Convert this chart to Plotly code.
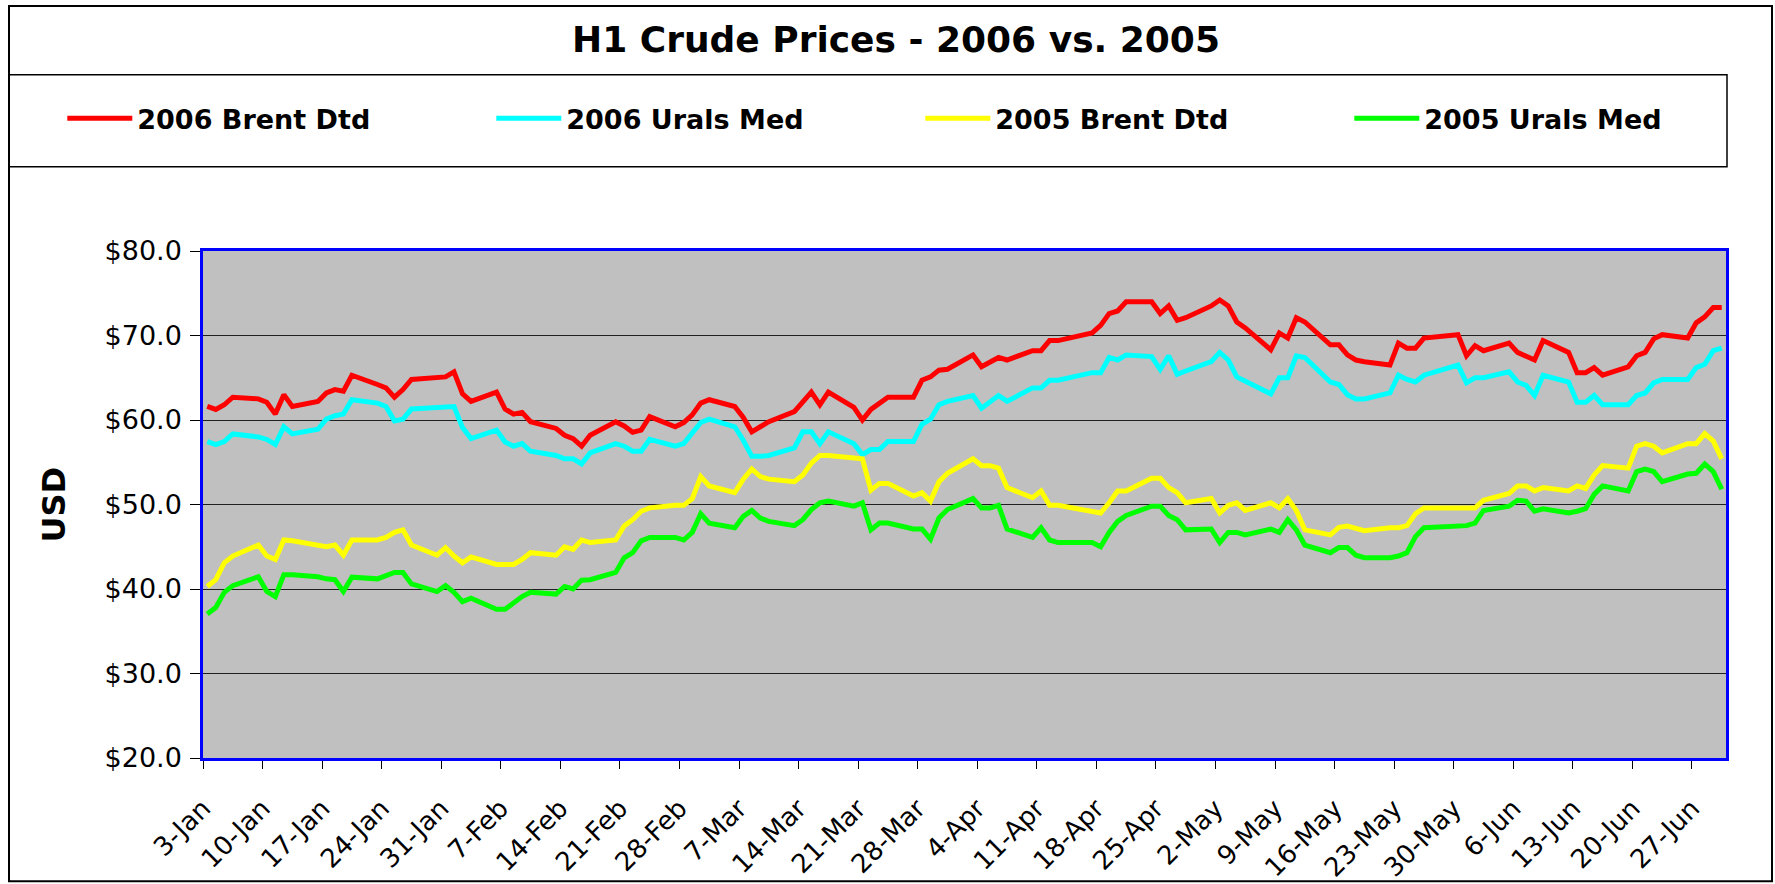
import pandas as pd
import plotly.graph_objects as go

W, H = 1775, 884

# ---- categories: trading days (weekdays, Good Friday & Spring BH missing) ----
holidays = ["2006-04-14", "2006-05-29"]
dates = [d for d in pd.bdate_range("2006-01-03", "2006-06-30")
         if d.strftime("%Y-%m-%d") not in holidays]

series_names = ["2006 Brent Dtd", "2006 Urals Med", "2005 Brent Dtd", "2005 Urals Med"]
series_colors = ["#FF0000", "#00FFFF", "#FFFF00", "#00FF00"]

brent_2006 = [
    61.6, 61.25, 61.8, 62.7, 62.5, 62.1, 60.7, 63.0, 61.6, 62.2, 63.2, 63.6, 63.4, 65.3, 64.2, 63.8, 62.7, 63.6, 64.8, 65.1, 65.1,
    65.7, 63.1, 62.2, 63.3, 61.3, 60.7, 60.9, 59.8, 59.0, 58.2, 57.8, 56.9, 58.2, 59.8, 59.3, 58.55, 58.8, 60.4, 59.2, 59.7,
    60.6, 62.0, 62.4, 61.6, 60.3, 58.6, 59.2, 59.8, 61.0, 62.2, 63.3, 61.8, 63.3, 61.5, 60.0, 61.25, 62.0, 62.7, 62.7, 64.7, 65.1, 65.9, 66.0,
    67.7, 66.3, 66.9, 67.4, 67.1, 68.2, 68.2, 69.4, 69.4, 70.3, 71.2, 72.6, 72.9, 74.0, 74.0, 72.6, 73.5, 71.8, 72.1,
    73.5, 74.2, 73.5, 71.6, 70.9, 68.3, 70.3, 69.7, 72.1, 71.6, 68.9, 68.9, 67.7, 67.1, 66.9, 66.5, 69.1, 68.5, 68.5, 69.7, 70.1, 67.6,
    68.8, 68.2, 69.1, 68.0, 67.6, 67.1, 69.4, 68.0, 65.6, 65.6, 66.2, 65.3, 66.3, 67.6, 68.0, 69.6, 70.1, 69.7, 71.5, 72.2, 73.3, 73.3,
]
urals_2006 = [
    57.45, 57.1, 57.45, 58.35, 58.0, 57.7, 57.1, 59.2, 58.35, 58.9, 60.1, 60.5, 60.7, 62.4, 62.0, 61.6, 59.9, 60.1, 61.3, 61.5, 61.6,
    61.6, 59.1, 57.8, 58.8, 57.4, 56.9, 57.2, 56.3, 55.8, 55.4, 55.4, 54.8, 56.1, 57.2, 56.9, 56.3, 56.3, 57.7, 56.9, 57.2,
    58.4, 59.7, 60.1, 59.2, 57.6, 55.7, 55.7, 55.8, 56.7, 58.6, 58.6, 57.2, 58.6, 57.2, 55.9, 56.5, 56.5, 57.45, 57.45, 59.5, 60.1, 61.8, 62.2,
    62.9, 61.4, 62.2, 62.9, 62.2, 63.8, 63.8, 64.7, 64.7, 65.6, 65.6, 67.4, 67.1, 67.7, 67.5, 66.0, 67.6, 65.4, 65.8,
    66.9, 68.0, 67.1, 65.1, 64.6, 63.1, 65.0, 65.0, 67.6, 67.4, 64.5, 64.2, 63.0, 62.5, 62.5, 63.2, 65.3, 64.8, 64.5, 65.3, 66.5, 64.4,
    65.0, 65.0, 65.7, 64.5, 64.1, 62.9, 65.3, 64.5, 62.1, 62.1, 62.9, 61.8, 61.8, 62.9, 63.2, 64.4, 64.8, 64.8, 66.2, 66.6, 68.2, 68.5,
]
brent_2005 = [
    40.3, 41.1, 43.1, 43.9, 45.2, 43.9, 43.5, 45.8, 45.7, 45.2, 45.0, 45.2, 44.0, 45.8, 45.8, 46.1, 46.7, 47.0, 45.2, 44.0, 44.9,
    43.9, 43.1, 43.8, 42.9, 42.9, 42.9, 43.5, 44.3, 44.0, 45.0, 44.7, 45.8, 45.5, 45.8, 47.45, 48.2, 49.2, 49.6, 49.9, 49.9,
    50.7, 53.3, 52.2, 51.4, 53.0, 54.2, 53.3, 53.0, 52.7, 53.5, 54.9, 55.8, 55.8, 55.4, 55.4, 51.7, 52.5, 52.5, 51.0, 51.4, 50.4, 52.7, 53.7,
    55.4, 54.6, 54.6, 54.3, 52.0, 50.8, 51.6, 49.9, 49.9, 49.2, 49.0, 50.2, 51.6, 51.6, 53.1, 53.1, 52.0, 51.4, 50.2,
    50.7, 49.0, 49.9, 50.2, 49.3, 50.2, 49.6, 50.7, 49.3, 47.0, 46.4, 47.3, 47.45, 47.1, 46.9, 47.25, 47.25, 47.5, 48.9, 49.6, 49.6, 49.6,
    49.6, 50.5, 51.3, 52.2, 52.2, 51.6, 52.0, 51.6, 52.2, 51.9, 53.5, 54.6, 54.3, 56.9, 57.2, 56.9, 56.1, 57.2, 57.2, 58.4, 57.5, 55.4,
]
urals_2005 = [
    37.05, 37.8, 39.6, 40.4, 41.45, 39.7, 39.1, 41.7, 41.7, 41.45, 41.2, 41.1, 39.7, 41.4, 41.2, 41.6, 41.96, 41.96, 40.6, 39.7, 40.4,
    39.6, 38.5, 38.9, 37.6, 37.6, 38.4, 39.1, 39.6, 39.4, 40.3, 40.0, 41.05, 41.1, 41.96, 43.7, 44.3, 45.7, 46.1, 46.1, 45.8,
    46.7, 48.9, 47.8, 47.25, 48.6, 49.3, 48.4, 48.0, 47.5, 48.2, 49.4, 50.2, 50.4, 49.8, 50.2, 47.0, 47.8, 47.8, 47.1, 47.1, 45.9, 48.4, 49.4,
    50.7, 49.6, 49.6, 49.9, 47.1, 46.1, 47.25, 45.8, 45.5, 45.5, 45.0, 46.7, 48.0, 48.7, 49.8, 49.8, 48.7, 48.2, 47.0,
    47.1, 45.5, 46.7, 46.7, 46.4, 47.1, 46.7, 48.2, 47.0, 45.2, 44.3, 44.9, 44.9, 44.0, 43.7, 43.7, 43.9, 44.3, 46.2, 47.25, 47.45, 47.5,
    47.8, 49.3, 49.8, 50.5, 50.4, 49.2, 49.5, 49.0, 49.2, 49.5, 51.2, 52.2, 51.6, 53.9, 54.2, 53.9, 52.7, 53.6, 53.7, 54.8, 53.9, 51.8,
]
series_values = [brent_2006, urals_2006, brent_2005, urals_2005]

for s in series_values:
    assert len(s) == len(dates), (len(s), len(dates))

# Excel date axis "between tick marks": each day's point sits mid-day
x_pos = [d + pd.Timedelta(hours=12) for d in dates]

FONT = "DejaVu Sans"

# plot-area pixel box
L, R, T, B = 203, 1726, 250.5, 758.5
def px(x):
    return (x - L) / (R - L)
def py(y):
    return (B - y) / (B - T)

fig = go.Figure()
for name, color, vals in zip(series_names, series_colors, series_values):
    fig.add_trace(go.Scatter(x=x_pos, y=vals, mode="lines", name=name,
                             line=dict(color=color, width=5), hoverinfo="x+y+name"))

fig.update_layout(
    width=W, height=H,
    margin=dict(l=L, r=W - R, t=T, b=H - B, autoexpand=False),
    paper_bgcolor="white",
    plot_bgcolor="#C0C0C0",
    font=dict(family=FONT, color="black"),
    title=dict(text="H1 Crude Prices - 2006 vs. 2005", x=896 / W, xanchor="center",
               y=1 - 39 / H, yanchor="middle", xref="container", yref="container",
               font=dict(family=FONT, size=36, color="black", weight="bold")),
    showlegend=True,
    legend=dict(orientation="h", x=px(62.3), xanchor="left", y=py(118), yanchor="middle",
                xref="paper", yref="paper",
                entrywidth=349, entrywidthmode="pixels", itemwidth=65,
                bgcolor="rgba(0,0,0,0)", borderwidth=0,
                font=dict(family=FONT, size=27, color="black", weight="bold"),
                tracegroupgap=0),
    xaxis=dict(type="date", range=["2006-01-03", "2006-07-01"],
               tick0="2006-01-03", dtick=7 * 24 * 3600 * 1000, tickformat="%-d-%b",
               tickangle=-45, ticks="outside", ticklen=8, tickcolor="black", tickwidth=1,
               ticklabelstandoff=14,
               tickfont=dict(family=FONT, size=26, color="black"),
               showgrid=False, zeroline=False,
               showline=True, mirror=True, linecolor="#0000FF", linewidth=2.5),
    yaxis=dict(range=[20, 80], dtick=10, tick0=20, tickprefix="$", tickformat=".1f",
               ticks="outside", ticklen=10, tickcolor="black", tickwidth=1,
               ticklabelstandoff=3,
               tickfont=dict(family=FONT, size=27, color="black"),
               showgrid=True, gridcolor="#202020", gridwidth=1, zeroline=False,
               showline=True, mirror=True, linecolor="#0000FF", linewidth=2.5),
    shapes=[
        dict(type="rect", xref="paper", yref="paper", x0=px(9), x1=px(1772), y0=py(882), y1=py(5),
             line=dict(color="black", width=2), fillcolor="rgba(0,0,0,0)", layer="below"),
        dict(type="rect", xref="paper", yref="paper", x0=px(9), x1=px(1727), y0=py(166), y1=py(74),
             line=dict(color="black", width=1.5), fillcolor="rgba(0,0,0,0)", layer="below"),
    ],
    annotations=[
        dict(text="USD", xref="paper", yref="paper", x=px(53.5), y=py(505), textangle=-90,
             showarrow=False, xanchor="center", yanchor="middle",
             font=dict(family=FONT, size=32, color="black", weight="bold")),
    ],
)

# remove the browser's default 8px body margin so the figure sits at the page origin
fig.write_html("out.html", config={"displayModeBar": False},
               post_script="document.body.style.margin='0px';")
